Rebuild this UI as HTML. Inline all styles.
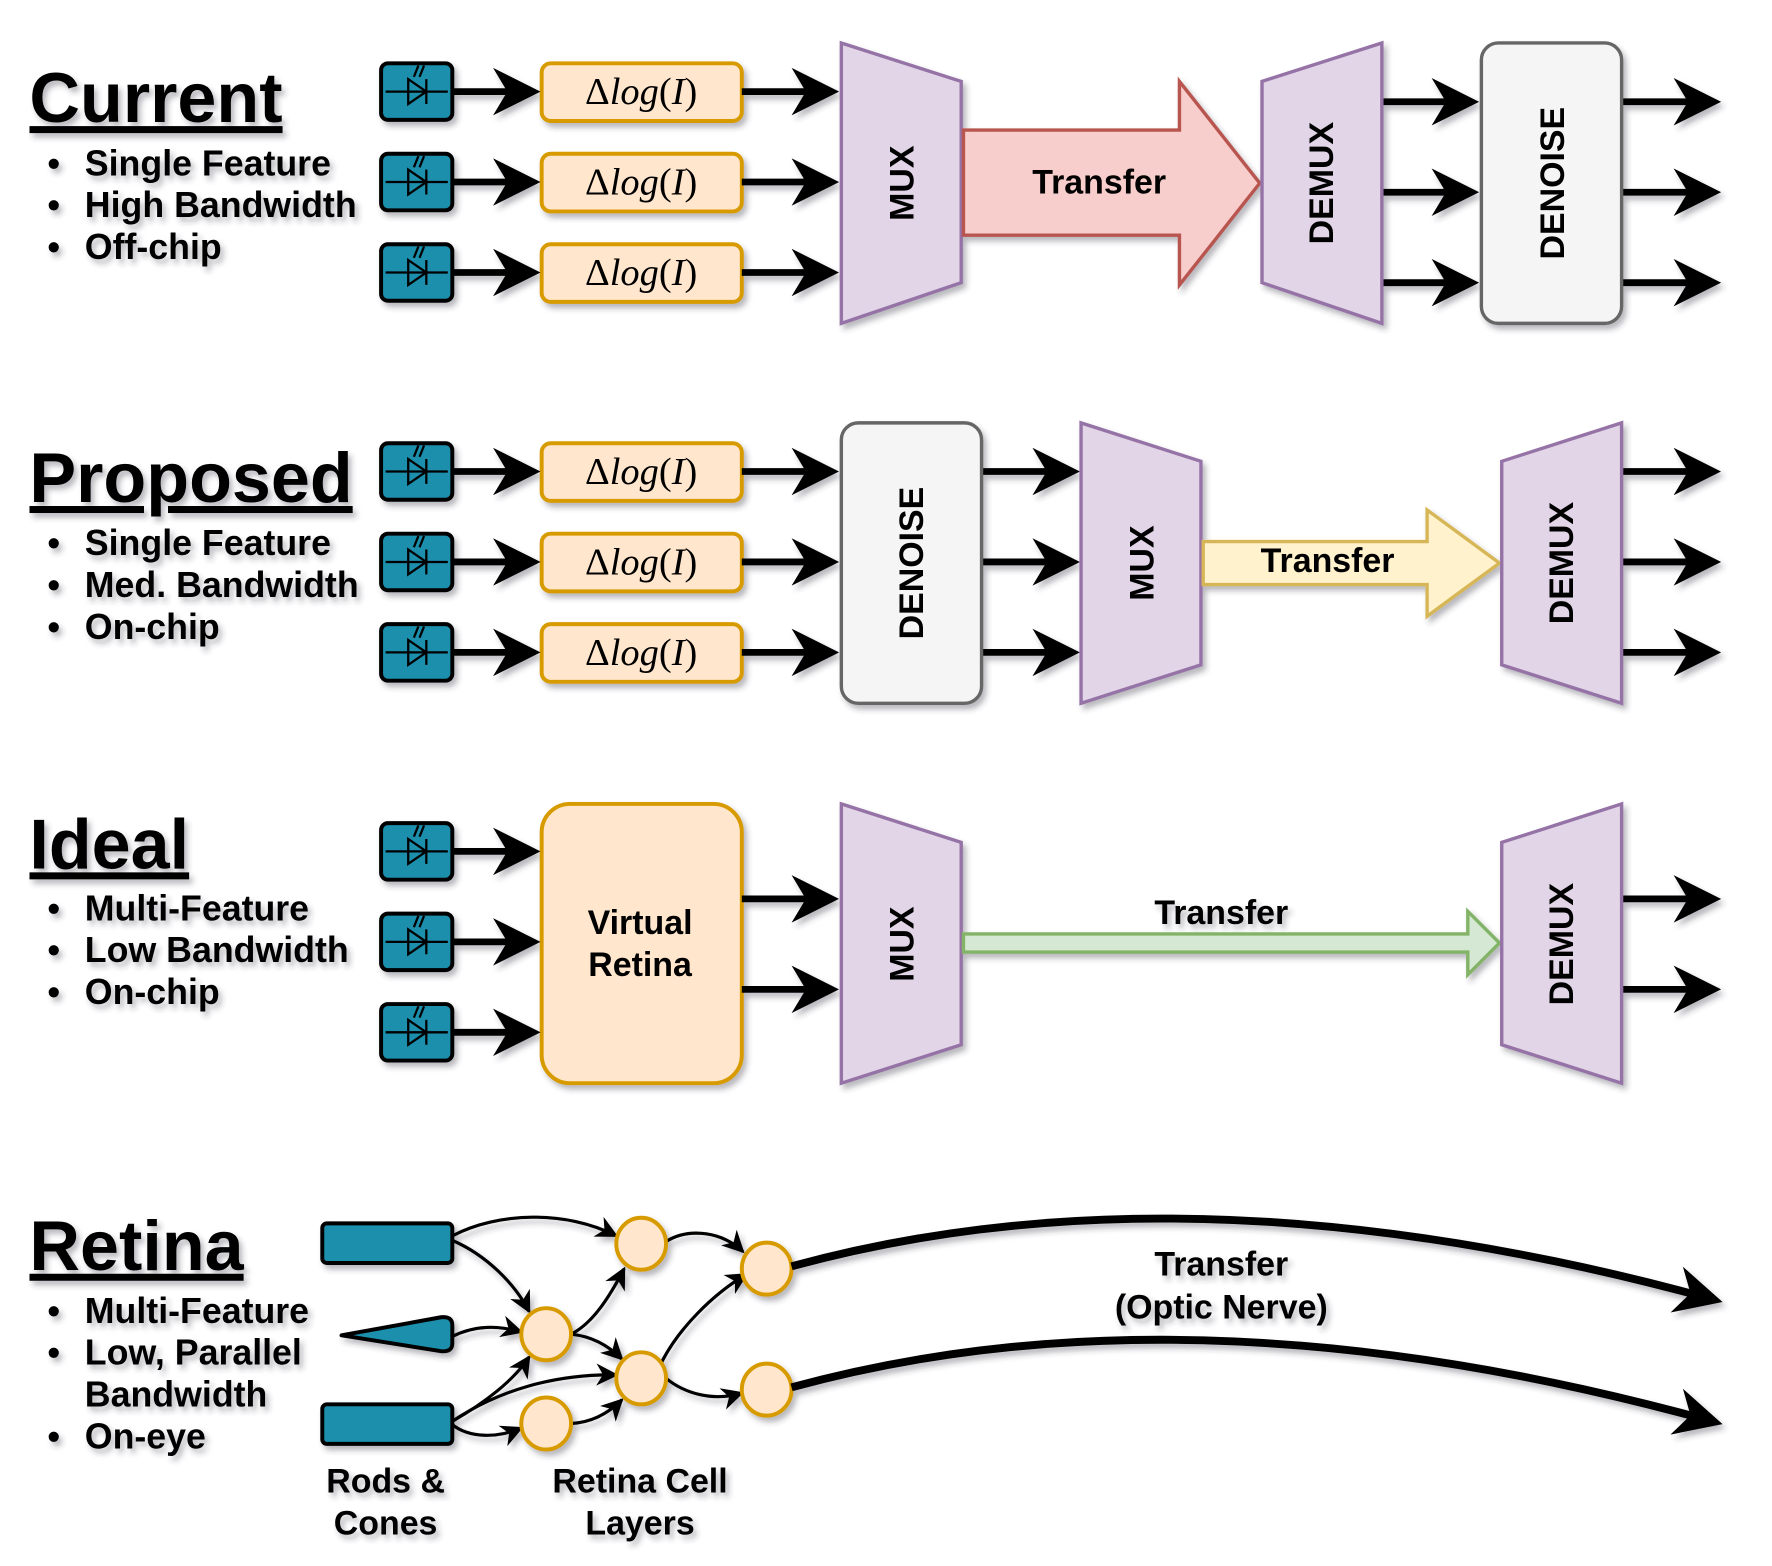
<!DOCTYPE html>
<html><head><meta charset="utf-8"><style>
html,body{margin:0;padding:0;background:#fff;}
svg{display:block;}
text{font-family:"Liberation Sans",Arial,sans-serif;font-weight:bold;fill:#000;}
.d{font-family:"Liberation Serif",serif;font-weight:normal;font-size:34px;}
.b{font-size:31.6px;}
.t{font-size:62px;text-decoration:underline;}
.l{font-size:30px;text-anchor:middle;}
</style></head><body>
<svg width="1772" height="1566" viewBox="0 0 1567 1385" preserveAspectRatio="none" xmlns="http://www.w3.org/2000/svg">
<defs>
<filter id="sh" x="-5%" y="-5%" width="110%" height="110%"><feDropShadow dx="3" dy="4" stdDeviation="2.5" flood-color="#334" flood-opacity="0.35"/></filter>
<marker id="ah" viewBox="0 0 10 10" refX="5" refY="5" markerWidth="7" markerHeight="7" orient="auto" markerUnits="strokeWidth"><path d="M0,0 L10,5 L0,10 L3,5 z" fill="#000"/></marker>
<marker id="at" viewBox="0 0 10 10" refX="9" refY="5" markerWidth="7" markerHeight="7" orient="auto" markerUnits="strokeWidth"><path d="M0,0 L10,5 L0,10 L3,5 z" fill="#000"/></marker>
<marker id="an" viewBox="0 0 10 10" refX="5" refY="5" markerWidth="6" markerHeight="6" orient="auto" markerUnits="strokeWidth"><path d="M0,0 L10,5 L0,10 L3,5 z" fill="#000"/></marker>
<g id="diode">
<rect x="0" y="0" width="63" height="50" rx="6" fill="#1a8fad" stroke="#000" stroke-width="3.5"/>
<path d="M4,25 H59 M24,14 V36 L40,25 Z M40,14 V36 M33,2 L29,12 M38,2 L34,12" stroke="#000" stroke-width="2" fill="none"/>
</g>
<g id="dlog">
<rect x="0" y="0" width="177" height="51" rx="8" fill="#ffe6cc" stroke="#d79b00" stroke-width="3.5"/>
<text class="d" x="88" y="36" text-anchor="middle">Δ<tspan font-style="italic">log</tspan>(<tspan font-style="italic">I</tspan>)</text>
</g>
</defs>
<g filter="url(#sh)">
<!-- ===== Current ===== -->
<text class="t" x="26" y="108">Current</text>
<text class="b" x="42" y="155">•</text><text class="b" x="75" y="155">Single Feature</text>
<text class="b" x="42" y="192">•</text><text class="b" x="75" y="192">High Bandwidth</text>
<text class="b" x="42" y="229">•</text><text class="b" x="75" y="229">Off-chip</text>
<use href="#diode" x="337" y="56"/><use href="#diode" x="337" y="136"/><use href="#diode" x="337" y="216"/>
<use href="#dlog" x="479" y="56"/><use href="#dlog" x="479" y="136"/><use href="#dlog" x="479" y="216"/>
<g stroke="#000" stroke-width="6" marker-end="url(#ah)">
<line x1="400" y1="81" x2="457" y2="81"/><line x1="400" y1="161" x2="457" y2="161"/><line x1="400" y1="241" x2="457" y2="241"/>
<line x1="656" y1="81" x2="721" y2="81"/><line x1="656" y1="161" x2="721" y2="161"/><line x1="656" y1="241" x2="721" y2="241"/>
<line x1="1222" y1="90" x2="1287" y2="90"/><line x1="1222" y1="170" x2="1287" y2="170"/><line x1="1222" y1="250" x2="1287" y2="250"/>
<line x1="1434" y1="90" x2="1501" y2="90"/><line x1="1434" y1="170" x2="1501" y2="170"/><line x1="1434" y1="250" x2="1501" y2="250"/>
</g>
<polygon points="744,38 850,72 850,250 744,286" fill="#e1d5e7" stroke="#9673a6" stroke-width="3"/>
<text class="l" transform="translate(808,162) rotate(-90)">MUX</text>
<polygon points="852,115 1043,115 1043,72 1114,162 1043,252 1043,208 852,208" fill="#f8cecc" stroke="#b85450" stroke-width="3"/>
<text class="l" x="972" y="171">Transfer</text>
<polygon points="1116,72 1222,38 1222,286 1116,250" fill="#e1d5e7" stroke="#9673a6" stroke-width="3"/>
<text class="l" transform="translate(1179,162) rotate(-90)">DEMUX</text>
<rect x="1310" y="38" width="124" height="248" rx="15" fill="#f5f5f5" stroke="#666" stroke-width="3"/>
<text class="l" transform="translate(1383,162) rotate(-90)">DENOISE</text>

<!-- ===== Proposed ===== -->
<text class="t" x="26" y="444">Proposed</text>
<text class="b" x="42" y="491">•</text><text class="b" x="75" y="491">Single Feature</text>
<text class="b" x="42" y="528">•</text><text class="b" x="75" y="528">Med. Bandwidth</text>
<text class="b" x="42" y="565">•</text><text class="b" x="75" y="565">On-chip</text>
<use href="#diode" x="337" y="392"/><use href="#diode" x="337" y="472"/><use href="#diode" x="337" y="552"/>
<use href="#dlog" x="479" y="392"/><use href="#dlog" x="479" y="472"/><use href="#dlog" x="479" y="552"/>
<g stroke="#000" stroke-width="6" marker-end="url(#ah)">
<line x1="400" y1="417" x2="457" y2="417"/><line x1="400" y1="497" x2="457" y2="497"/><line x1="400" y1="577" x2="457" y2="577"/>
<line x1="656" y1="417" x2="721" y2="417"/><line x1="656" y1="497" x2="721" y2="497"/><line x1="656" y1="577" x2="721" y2="577"/>
<line x1="868" y1="417" x2="934" y2="417"/><line x1="868" y1="497" x2="934" y2="497"/><line x1="868" y1="577" x2="934" y2="577"/>
<line x1="1434" y1="417" x2="1501" y2="417"/><line x1="1434" y1="497" x2="1501" y2="497"/><line x1="1434" y1="577" x2="1501" y2="577"/>
</g>
<rect x="744" y="374" width="124" height="248" rx="15" fill="#f5f5f5" stroke="#666" stroke-width="3"/>
<text class="l" transform="translate(816,498) rotate(-90)">DENOISE</text>
<polygon points="956,374 1062,408 1062,588 956,622" fill="#e1d5e7" stroke="#9673a6" stroke-width="3"/>
<text class="l" transform="translate(1020,498) rotate(-90)">MUX</text>
<polygon points="1064,479 1262,479 1262,451 1326,498 1262,545 1262,517 1064,517" fill="#fff2cc" stroke="#d6b656" stroke-width="3"/>
<text class="l" x="1174" y="506">Transfer</text>
<polygon points="1328,408 1434,374 1434,622 1328,588" fill="#e1d5e7" stroke="#9673a6" stroke-width="3"/>
<text class="l" transform="translate(1391,498) rotate(-90)">DEMUX</text>

<!-- ===== Ideal ===== -->
<text class="t" x="26" y="768">Ideal</text>
<text class="b" x="42" y="814">•</text><text class="b" x="75" y="814">Multi-Feature</text>
<text class="b" x="42" y="851">•</text><text class="b" x="75" y="851">Low Bandwidth</text>
<text class="b" x="42" y="888">•</text><text class="b" x="75" y="888">On-chip</text>
<use href="#diode" x="337" y="728"/><use href="#diode" x="337" y="808"/><use href="#diode" x="337" y="888"/>
<rect x="479" y="711" width="177" height="247" rx="25" fill="#ffe6cc" stroke="#d79b00" stroke-width="3.5"/>
<text class="l" x="566" y="826">Virtual</text><text class="l" x="566" y="863">Retina</text>
<g stroke="#000" stroke-width="6" marker-end="url(#ah)">
<line x1="400" y1="753" x2="457" y2="753"/><line x1="400" y1="833" x2="457" y2="833"/><line x1="400" y1="913" x2="457" y2="913"/>
<line x1="656" y1="795" x2="721" y2="795"/><line x1="656" y1="875" x2="721" y2="875"/>
<line x1="1434" y1="795" x2="1501" y2="795"/><line x1="1434" y1="875" x2="1501" y2="875"/>
</g>
<polygon points="744,711 850,745 850,924 744,958" fill="#e1d5e7" stroke="#9673a6" stroke-width="3"/>
<text class="l" transform="translate(808,835) rotate(-90)">MUX</text>
<polygon points="852,826 1298,826 1298,806 1326,834 1298,862 1298,842 852,842" fill="#d5e8d4" stroke="#82b366" stroke-width="3"/>
<text class="l" x="1080" y="817">Transfer</text>
<polygon points="1328,745 1434,711 1434,958 1328,924" fill="#e1d5e7" stroke="#9673a6" stroke-width="3"/>
<text class="l" transform="translate(1391,835) rotate(-90)">DEMUX</text>

<!-- ===== Retina ===== -->
<text class="t" x="26" y="1123">Retina</text>
<text class="b" x="42" y="1170">•</text><text class="b" x="75" y="1170">Multi-Feature</text>
<text class="b" x="42" y="1207">•</text><text class="b" x="75" y="1207">Low, Parallel</text>
<text class="b" x="75" y="1244">Bandwidth</text>
<text class="b" x="42" y="1281">•</text><text class="b" x="75" y="1281">On-eye</text>
<rect x="285" y="1082" width="115" height="35" rx="4" fill="#1a8fad" stroke="#000" stroke-width="3.5"/>
<rect x="285" y="1242" width="115" height="35" rx="4" fill="#1a8fad" stroke="#000" stroke-width="3.5"/>
<path d="M302,1181 L390,1165 Q400,1164 400,1172 L400,1188 Q400,1196 390,1195 Z" fill="#1a8fad" stroke="#000" stroke-width="3.5" stroke-linejoin="round"/>
<g fill="none" stroke="#000" stroke-width="2.8" marker-end="url(#at)">
<path d="M400,1093 C440,1072 500,1070 545,1093"/>
<path d="M400,1097 C430,1110 455,1135 468,1160"/>
<path d="M400,1182 C420,1172 440,1172 461,1178"/>
<path d="M400,1257 C430,1240 455,1220 468,1200"/>
<path d="M400,1257 C440,1230 490,1215 545,1216"/>
<path d="M400,1260 C415,1272 440,1272 461,1263"/>
<path d="M505,1180 C525,1170 540,1145 552,1122"/>
<path d="M505,1180 C525,1182 540,1192 550,1202"/>
<path d="M505,1259 C525,1258 540,1248 550,1238"/>
<path d="M589,1098 C610,1085 640,1090 657,1107"/>
<path d="M585,1205 C600,1175 630,1145 660,1127"/>
<path d="M589,1219 C605,1232 630,1240 656,1232"/>
</g>
<g fill="#ffe6cc" stroke="#d79b00" stroke-width="3.5">
<ellipse cx="567" cy="1100" rx="22" ry="23"/>
<ellipse cx="483" cy="1180" rx="22" ry="23"/>
<ellipse cx="567" cy="1219" rx="22" ry="23"/>
<ellipse cx="483" cy="1259" rx="22" ry="23"/>
<ellipse cx="678" cy="1122" rx="22" ry="23"/>
<ellipse cx="678" cy="1229" rx="22" ry="23"/>
</g>
<g fill="none" stroke="#000" stroke-width="7" marker-end="url(#an)">
<path d="M700,1120 Q1050,1024 1503,1146"/>
<path d="M700,1227 Q1050,1131 1503,1254"/>
</g>
<text class="l" x="1080" y="1128">Transfer</text>
<text class="l" x="1080" y="1166">(Optic Nerve)</text>
<text class="l" x="341" y="1320">Rods &amp;</text>
<text class="l" x="341" y="1357">Cones</text>
<text class="l" x="566" y="1320">Retina Cell</text>
<text class="l" x="566" y="1357">Layers</text>
</g>
</svg>
</body></html>
